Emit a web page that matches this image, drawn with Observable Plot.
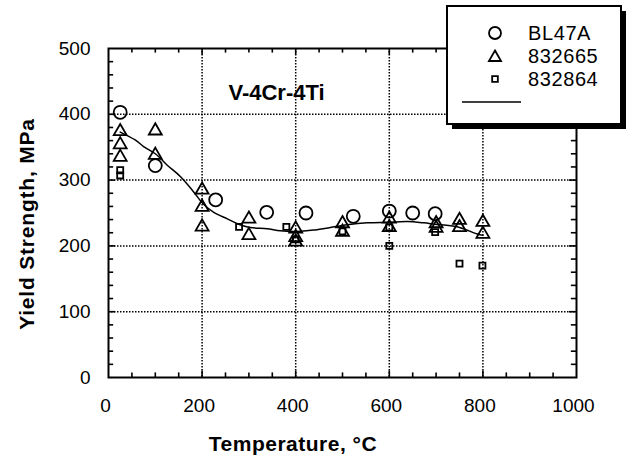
<!DOCTYPE html>
<html>
<head>
<meta charset="utf-8">
<script src="https://cdn.jsdelivr.net/npm/d3@7"></script>
<script src="https://cdn.jsdelivr.net/npm/@observablehq/plot@0.6"></script>
<style>
  html, body { margin: 0; padding: 0; background: #fff; }
  #chart { width: 627px; height: 458px; }
</style>
</head>
<body>
<div id="chart"></div>
<script>
// ---- data ----
const bl47aTemp = [25, 100, 229, 338, 422, 523, 600, 650, 698];
const bl47aYS   = [403, 322, 270, 251, 250, 245, 253, 250, 249];

const s832665Temp = [25, 25, 25, 100, 100, 200, 200, 200, 300, 300, 400, 400, 400, 500, 500, 600, 600, 700, 700, 750, 750, 800, 800];
const s832665YS   = [374, 354, 335, 375, 338, 285, 259, 229, 241, 216, 226, 213, 206, 234, 221, 241, 228, 234, 227, 239, 228, 236, 218];

const s832864Temp = [25, 25, 279, 380, 400, 500, 600, 600, 698, 750, 799];
const s832864YS   = [315, 307, 229, 229, 210, 222, 228, 200, 221, 173, 170];

const fitTemp = [25, 57, 75, 100, 125, 154, 182, 202, 225, 254, 278, 303, 339, 367, 400, 438, 474, 510, 553, 599, 638, 674, 697, 745, 788, 800];
const fitYS   = [373, 361, 351, 340, 323, 305, 282, 264, 251, 241, 233, 228, 226, 223, 222, 224, 228, 232, 235, 236, 237, 235, 233, 229, 218, 216];

const xTickLabels = [0, 200, 400, 600, 800, 1000];
const yTickLabels = [0, 100, 200, 300, 400, 500];
const xGrid = [200, 400, 600, 800];
const yGrid = [100, 200, 300, 400];
const xMinor = [50, 100, 150, 250, 300, 350, 450, 500, 550, 650, 700, 750, 850, 900, 950];
const yMinor = [20, 40, 60, 80, 120, 140, 160, 180, 220, 240, 260, 280, 320, 340, 360, 380, 420, 440, 460, 480];

const seriesNames = ["BL47A", "832665", "832864"];
const alloyLabel = [{text: "V-4Cr-4Ti", T: 359, YS: 433}];
const xTitle = "Temperature, °C";
const yTitle = "Yield Strength, MPa";

// ---- tables built from the arrays ----
const circles = bl47aTemp.map((t, i) => ({T: t, YS: bl47aYS[i]}));
const triangles = s832665Temp.map((t, i) => ({T: t, YS: s832665YS[i]}));
const squares = s832864Temp.map((t, i) => ({T: t, YS: s832864YS[i]}));
const fit = fitTemp.map((t, i) => ({T: t, YS: fitYS[i]}));

const X0 = 0, X1 = 1000, Y0 = 0, Y1 = 500;
const majT = 10, minT = 7;     // tick lengths (MPa) for horizontal axes
const majTx = 15, minTx = 11;  // tick lengths (°C) for vertical axes
const xTicks = [
  ...xMinor.flatMap(v => [{x: v, a: Y0, b: Y0 + minT}, {x: v, a: Y1, b: Y1 - minT}]),
  ...xGrid.flatMap(v => [{x: v, a: Y0, b: Y0 + majT}, {x: v, a: Y1, b: Y1 - majT}])
];
const yTicks = [
  ...yMinor.flatMap(v => [{y: v, a: X0, b: X0 + minTx}, {y: v, a: X1, b: X1 - minTx}]),
  ...yGrid.flatMap(v => [{y: v, a: X0, b: X0 + majTx}, {y: v, a: X1, b: X1 - majTx}])
];

const font = "'Liberation Sans', Arial, Helvetica, sans-serif";
const dots = {stroke: "#000", strokeOpacity: 1, strokeWidth: 1.5, strokeDasharray: "1.5,1.5"};

const chart = Plot.plot({
  width: 627,
  height: 458,
  marginLeft: 108,
  marginRight: 51,
  marginTop: 48,
  marginBottom: 81,
  style: {fontFamily: font, background: "#fff", color: "#000", overflow: "visible"},
  x: {domain: [X0, X1]},
  y: {domain: [Y0, Y1]},
  marks: [
    Plot.ruleX(xGrid, {x: d => d, ...dots}),
    Plot.ruleY(yGrid, {y: d => d, ...dots}),
    Plot.ruleX(xTicks, {x: "x", y1: "a", y2: "b", stroke: "#000", strokeWidth: 1.6}),
    Plot.ruleY(yTicks, {y: "y", x1: "a", x2: "b", stroke: "#000", strokeWidth: 1.6}),
    Plot.frame({stroke: "#000", strokeWidth: 2}),
    Plot.axisX({ticks: xTickLabels, tickSize: 0, tickPadding: 21, fontSize: 19, label: null, dx: -3, tickFormat: d => String(d)}),
    Plot.axisY({ticks: yTickLabels, tickSize: 0, tickPadding: 18, fontSize: 19, label: null, tickFormat: d => String(d)}),
    Plot.line(fit, {x: "T", y: "YS", stroke: "#000", strokeWidth: 1.5, curve: "catmull-rom"}),
    Plot.dot(squares, {x: "T", y: "YS", symbol: "square", r: 3.4, stroke: "#000", strokeWidth: 1.8, fill: "none"}),
    Plot.dot(triangles, {x: "T", y: "YS", symbol: "triangle", r: 4.8, stroke: "#000", strokeWidth: 1.8, fill: "none"}),
    Plot.dot(circles, {x: "T", y: "YS", symbol: "circle", r: 6.5, stroke: "#000", strokeWidth: 1.8, fill: "none"}),
    Plot.text(alloyLabel, {x: "T", y: "YS", text: "text", fontSize: 22, fontWeight: "bold", fill: "#000", letterSpacing: 0.8})
  ]
});

const svg = d3.select(chart);

// ---- axis titles ----
svg.append("text")
  .attr("x", 293).attr("y", 451)
  .attr("text-anchor", "middle")
  .attr("font-family", font).attr("font-size", 21).attr("font-weight", "bold")
  .attr("letter-spacing", 0.5).attr("fill", "#000")
  .text(xTitle);
svg.append("text")
  .attr("transform", "translate(34,224) rotate(-90)")
  .attr("text-anchor", "middle")
  .attr("font-family", font).attr("font-size", 21).attr("font-weight", "bold")
  .attr("letter-spacing", 0.8).attr("fill", "#000")
  .text(yTitle);

// ---- legend box ----
const lg = svg.append("g").attr("class", "legend");
const bx = 447, by = 6, bw = 174, bh = 118;
lg.append("rect").attr("x", bx + 5).attr("y", by + 5).attr("width", bw).attr("height", bh).attr("fill", "#000");
lg.append("rect").attr("x", bx).attr("y", by).attr("width", bw).attr("height", bh)
  .attr("fill", "#fff").attr("stroke", "#000").attr("stroke-width", 2);
const symbols = [
  {name: seriesNames[0], path: null, r: 6},
  {name: seriesNames[1], path: d3.symbol(d3.symbolTriangle, Math.PI * 4.5 * 4.5)()},
  {name: seriesNames[2], path: d3.symbol(d3.symbolSquare, Math.PI * 3.2 * 3.2)()}
];
const rowY = [33, 56, 79];
symbols.forEach((s, i) => {
  const cy = rowY[i];
  if (s.path === null) {
    lg.append("circle").attr("cx", 495).attr("cy", cy).attr("r", s.r)
      .attr("fill", "none").attr("stroke", "#000").attr("stroke-width", 1.8);
  } else {
    lg.append("path").attr("d", s.path).attr("transform", `translate(495,${cy + (i === 1 ? 1.5 : 0)})`)
      .attr("fill", "none").attr("stroke", "#000").attr("stroke-width", 1.8);
  }
  lg.append("text").attr("x", 528).attr("y", cy).attr("dy", "0.36em")
    .attr("text-anchor", "start")
    .attr("font-family", font).attr("font-size", 20).attr("letter-spacing", 0.6)
    .attr("fill", "#000").text(s.name);
});
lg.append("line").attr("x1", 462).attr("x2", 521).attr("y1", 102).attr("y2", 102)
  .attr("stroke", "#000").attr("stroke-width", 1.5);

document.getElementById("chart").appendChild(chart);
</script>
</body>
</html>
